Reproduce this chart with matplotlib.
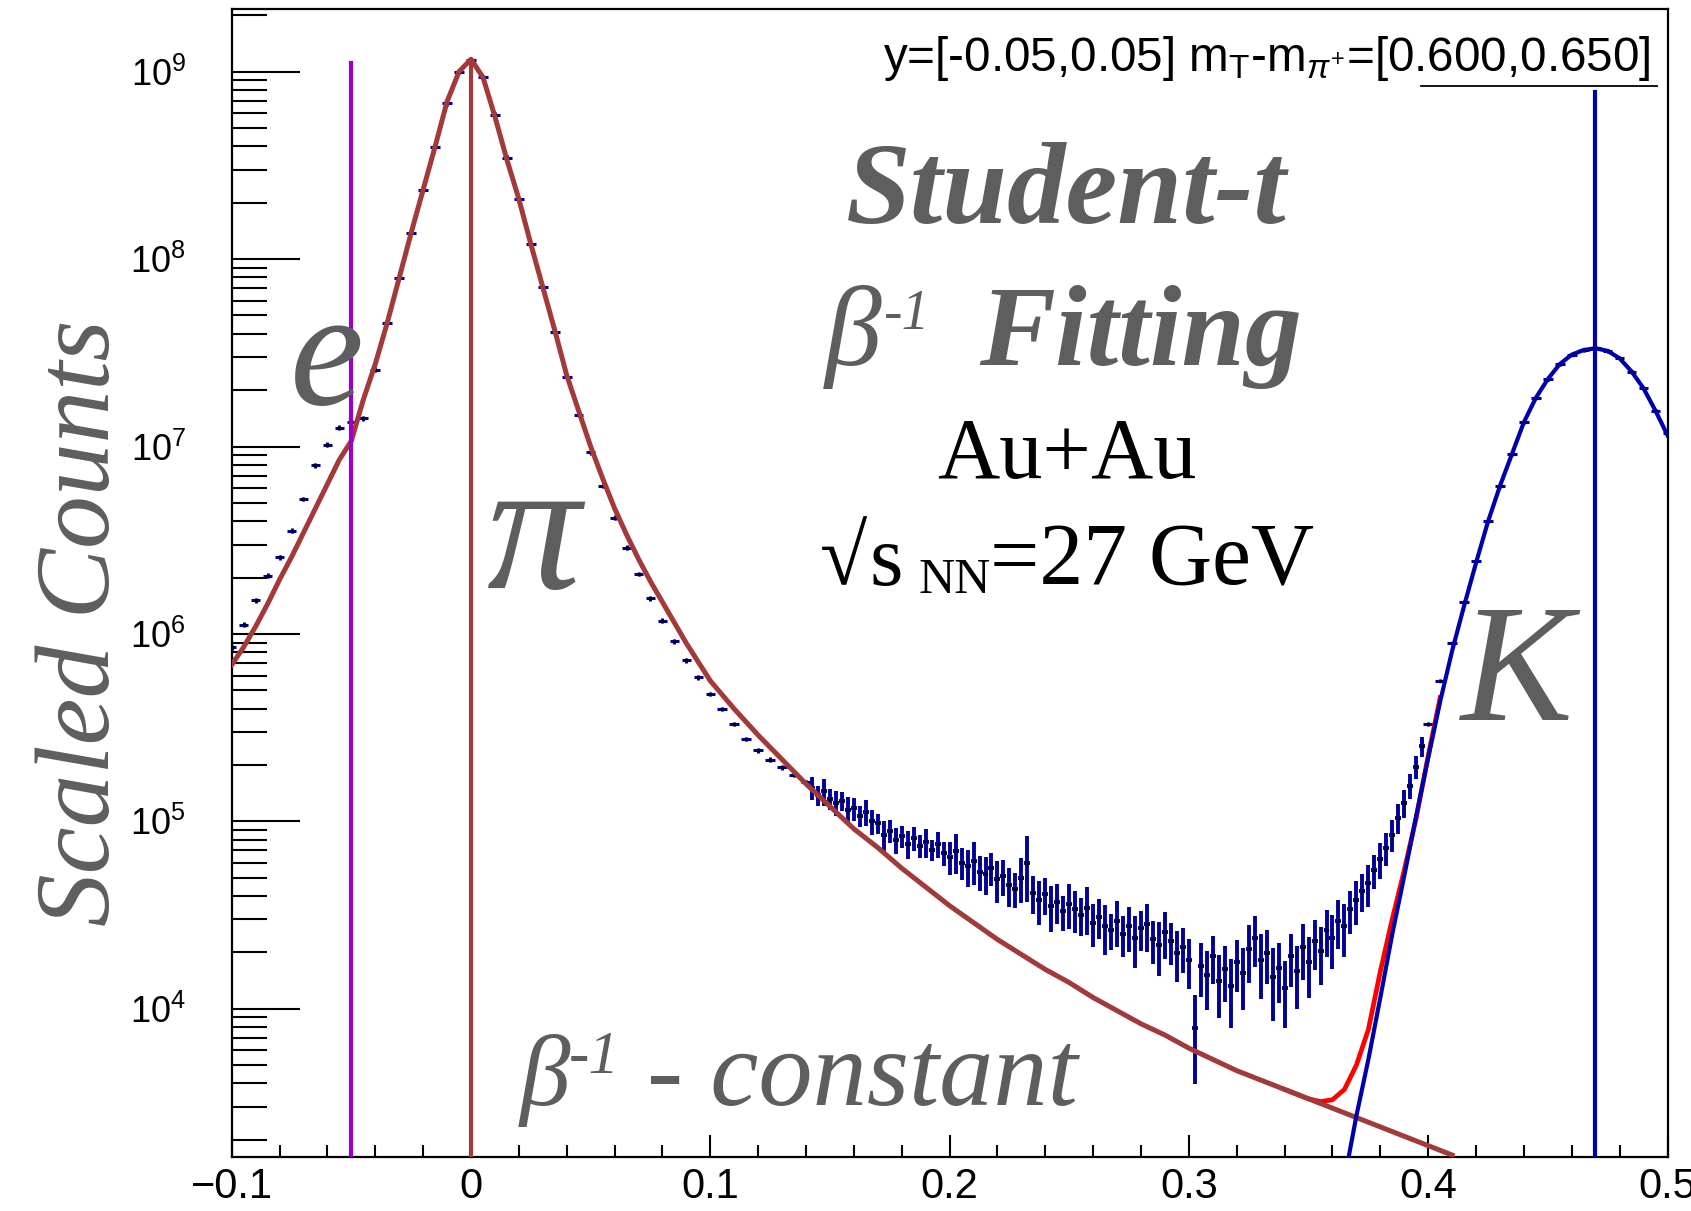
import numpy as np
import matplotlib
matplotlib.use("Agg")
import matplotlib.pyplot as plt
from matplotlib.ticker import LogLocator, MultipleLocator, FixedLocator, FixedFormatter, NullFormatter

# ---------------- data (log10 of scaled counts) ----------------
# segment A: bins from -0.100 in steps of 0.005
bin_A_start, bin_A_step = -0.100, 0.005
log_counts_A = [5.93, 6.05, 6.18, 6.31, 6.41, 6.55, 6.72, 6.90, 7.01, 7.10,
                7.13, 7.15, 7.41, 7.66, 7.90, 8.14, 8.37, 8.60, 8.83, 9.00,
                9.06, 8.97, 8.77, 8.54, 8.32, 8.08, 7.85, 7.61, 7.37, 7.17,
                6.97, 6.79, 6.62, 6.46, 6.32, 6.19, 6.07, 5.96, 5.86, 5.77,
                5.68, 5.60, 5.52, 5.44, 5.38, 5.33, 5.29, 5.25, 5.21]
rel_err_A = 0.03

# segment B: bins from 0.1425 in steps of 0.0025 (noisy region)
bin_B_start, bin_B_step = 0.1425, 0.0025
log_counts_B = [5.18, 5.14, 5.16, 5.12, 5.10, 5.11, 5.06, 5.07, 5.03, 5.05,
                5.00, 4.99, 4.93, 4.95, 4.90, 4.92, 4.88, 4.91, 4.87, 4.89,
                4.85, 4.88, 4.83, 4.81, 4.84, 4.78, 4.76, 4.79, 4.73, 4.72,
                4.75, 4.69, 4.71, 4.66, 4.64, 4.70, 4.78, 4.62, 4.58, 4.61,
                4.55, 4.57, 4.52, 4.56, 4.53, 4.50, 4.54, 4.46, 4.49, 4.44,
                4.42, 4.47, 4.40, 4.44, 4.38, 4.43, 4.45, 4.37, 4.34, 4.41,
                4.36, 4.30, 4.33, 4.26, 3.90, 4.23, 4.18, 4.28, 4.15, 4.21,
                4.12, 4.25, 4.19, 4.32, 4.38, 4.26, 4.30, 4.17, 4.22, 4.11,
                4.28, 4.20, 4.33, 4.25, 4.36, 4.31, 4.42, 4.38, 4.47, 4.44,
                4.53, 4.58, 4.63, 4.67, 4.74, 4.80, 4.86, 4.93, 5.02, 5.10,
                5.19, 5.29, 5.40]
rel_err_B = [0.14, 0.12, 0.16, 0.13, 0.15, 0.12, 0.17, 0.14, 0.13, 0.16,
             0.15, 0.12, 0.18, 0.14, 0.16, 0.13, 0.17, 0.15, 0.14, 0.18,
             0.13, 0.16, 0.15,
             0.20, 0.24, 0.19, 0.22, 0.26, 0.21, 0.23, 0.20, 0.25, 0.22,
             0.24, 0.21, 0.27, 0.38, 0.23, 0.26, 0.22, 0.28, 0.24, 0.21,
             0.27, 0.25, 0.23, 0.29, 0.26, 0.24, 0.30, 0.22, 0.28, 0.25,
             0.27, 0.31, 0.24, 0.29, 0.26, 0.32, 0.28, 0.25, 0.30, 0.27,
             0.30, 0.50, 0.32, 0.35, 0.29, 0.37, 0.33, 0.40, 0.31, 0.36,
             0.34, 0.30, 0.38, 0.32, 0.42, 0.35, 0.39, 0.31, 0.37, 0.33,
             0.36, 0.30, 0.34, 0.28, 0.32, 0.29, 0.31, 0.26,
             0.26, 0.23, 0.25, 0.21, 0.22, 0.20, 0.19, 0.18, 0.17, 0.15,
             0.14, 0.12]

# segment C: bins from 0.400 in steps of 0.005 (kaon peak)
bin_C_start, bin_C_step = 0.400, 0.005
log_counts_C = [5.52, 5.75, 5.95, 6.17, 6.39, 6.60, 6.79, 6.96, 7.13, 7.26,
                7.36, 7.44, 7.49, 7.515, 7.524, 7.51, 7.47, 7.40, 7.31, 7.19,
                7.07]
rel_err_C = 0.02

# Student-t pion fit (brown)
pi_fit_x_fine = np.round(np.arange(-0.100, 0.1001, 0.005), 4)
pi_fit_log_fine = [5.835, 5.93, 6.04, 6.16, 6.29, 6.41, 6.54, 6.67, 6.80, 6.93,
                   7.03, 7.25, 7.44, 7.66, 7.90, 8.14, 8.37, 8.60, 8.84, 9.00,
                   9.066, 8.97, 8.76, 8.53, 8.32, 8.08, 7.85, 7.62, 7.38, 7.19,
                   7.00, 6.83, 6.67, 6.53, 6.40, 6.28, 6.17, 6.06, 5.95, 5.85,
                   5.75]
pi_fit_x_coarse = np.round(np.arange(0.11, 0.4101, 0.01), 3)
pi_fit_log_coarse = [5.60, 5.46, 5.33, 5.20, 5.08, 4.96, 4.86, 4.75, 4.65, 4.55,
                     4.46, 4.37, 4.29, 4.21, 4.14, 4.06, 3.99, 3.92, 3.86, 3.79,
                     3.73, 3.67, 3.62, 3.57, 3.52, 3.47, 3.42, 3.37, 3.32, 3.27,
                     3.22]

# kaon fit (blue)
k_fit_x = np.round(np.arange(0.365, 0.5001, 0.005), 3)
k_fit_log = [3.09, 3.43, 3.73, 4.06, 4.40, 4.71, 5.03, 5.34, 5.64, 5.91,
             6.15, 6.38, 6.60, 6.79, 6.96, 7.13, 7.26, 7.36, 7.44, 7.49,
             7.515, 7.524, 7.51, 7.47, 7.40, 7.31, 7.19, 7.06]

# total fit (red), visible part
tot_fit_x = np.round(np.arange(0.340, 0.4051, 0.005), 3)
tot_fit_log = [3.57, 3.545, 3.52, 3.505, 3.515, 3.57, 3.70, 3.89, 4.20, 4.48,
               4.74, 5.02, 5.35, 5.66]

# mean markers (vertical lines): x, top value
mean_x = [-0.05, 0.0, 0.4697]
mean_top = [1.11e9, 1.15e9, 7.8e8]
mean_colors = ["#9900cc", "#a33a3a", "#0000aa"]

xtick_vals = [-0.1, 0.0, 0.1, 0.2, 0.3, 0.4, 0.5]
xtick_labels = ["\u22120.1", "0", "0.1", "0.2", "0.3", "0.4", "0.5"]
ytick_vals = [1e4, 1e5, 1e6, 1e7, 1e8, 1e9]

# ---------------- figure ----------------
plt.rcParams["mathtext.fontset"] = "custom"
plt.rcParams["mathtext.rm"] = "Liberation Sans"
plt.rcParams["mathtext.it"] = "Liberation Sans:italic"
plt.rcParams["mathtext.bf"] = "Liberation Sans:bold"
plt.rcParams["mathtext.sf"] = "Liberation Sans"
plt.rcParams["font.family"] = ["Liberation Sans", "DejaVu Sans"]

fig = plt.figure(figsize=(16.91, 12.11), dpi=100)
ax = fig.add_axes([0.13702, 0.04459, 0.84909, 0.94773])
ax.set_yscale("log")
ax.set_xlim(-0.1, 0.5)
ax.set_ylim(1620, 2.15e9)

navy = "#000099"

def draw_data(start, step, logs, rel, half, elw):
    logs = np.asarray(logs, dtype=float)
    x = start + step * np.arange(len(logs))
    y = 10 ** logs
    rel = np.broadcast_to(np.asarray(rel, dtype=float), y.shape)
    err = y * rel
    lower = np.minimum(err, y * 0.95)
    ax.errorbar(x, y, yerr=[lower, err], xerr=half, fmt="none",
                ecolor=navy, elinewidth=elw, capsize=0, zorder=2)
    ax.plot(x, y, ls="none", marker="o", ms=1.6, color="black", zorder=3)

draw_data(bin_A_start, bin_A_step, log_counts_A, rel_err_A, 0.002, 2.2)
draw_data(bin_B_start, bin_B_step, log_counts_B, rel_err_B, 0.00125, 2.8)
draw_data(bin_C_start, bin_C_step, log_counts_C, rel_err_C, 0.002, 2.2)

# fits
ax.plot(tot_fit_x, 10 ** np.array(tot_fit_log), color="red", lw=3.4, zorder=4)
pi_x = np.concatenate([pi_fit_x_fine, pi_fit_x_coarse])
pi_y = 10 ** np.array(pi_fit_log_fine + pi_fit_log_coarse)
ax.plot(pi_x, pi_y, color="#a33a3a", lw=3.6, zorder=5, solid_joinstyle="round")
ax.plot(k_fit_x, 10 ** np.array(k_fit_log), color="#0000aa", lw=3.0, zorder=6)

for mx, mt, mc in zip(mean_x, mean_top, mean_colors):
    ax.plot([mx, mx], [1620, mt], color=mc, lw=3.0, zorder=7)

# axes styling
for s in ax.spines.values():
    s.set_linewidth(1.6)
ax.yaxis.set_major_locator(FixedLocator(ytick_vals))
ax.yaxis.set_minor_locator(LogLocator(base=10, subs=np.arange(2, 10), numticks=100))
ax.yaxis.set_minor_formatter(NullFormatter())
ax.xaxis.set_major_locator(FixedLocator(xtick_vals))
ax.xaxis.set_major_formatter(FixedFormatter(xtick_labels))
ax.xaxis.set_minor_locator(MultipleLocator(0.02))
ax.tick_params(axis="y", which="major", direction="in", length=49, width=1.5,
               labelsize=26, pad=33)
ax.tick_params(axis="y", which="minor", direction="in", length=25, width=1.5)
ax.tick_params(axis="x", which="major", direction="in", length=16, width=1.5,
               labelsize=30, pad=7)
ax.tick_params(axis="x", which="minor", direction="in", length=8.5, width=1.5)

# header
ax.text(0.988, 0.946, r"y=[-0.05,0.05] m$_{\mathregular{T}}$-m$_{\pi^{+}}$=[0.600,0.650]",
        transform=ax.transAxes, ha="right", va="baseline", fontsize=34.3,
        family="Liberation Sans", color="black", zorder=10)
ax.plot([0.828, 0.993], [0.933, 0.933], transform=ax.transAxes, color="black",
        lw=1.3, clip_on=False, zorder=10)

gray = "#5e5e5e"
serif = ["Liberation Serif", "DejaVu Serif"]

def t(x, y, s, size, style="italic", weight="normal", color=gray, ha="left"):
    ax.text(x, y, s, transform=ax.transAxes, ha=ha, va="baseline", fontsize=size,
            family=serif, style=style, weight=weight, color=color, zorder=10)

t(0.5815, 0.8136, "Student-t", 84, weight="bold", ha="center")
t(0.4133, 0.6905, "\u03b2", 82)
t(0.4543, 0.7215, "-1", 40)
t(0.5208, 0.6905, "Fitting", 82, weight="bold")
t(0.5815, 0.5919, "Au+Au", 62, style="normal", color="black", ha="center")
t(0.4095, 0.4988, "\u221a", 62, style="normal", color="black")
t(0.4440, 0.4988, "s", 62, style="normal", color="black")
t(0.4786, 0.4914, "NN", 36, style="normal", color="black")
t(0.5282, 0.4988, "=27 GeV", 63, style="normal", color="black")
t(0.0403, 0.6558, "e", 120)
t(0.1781, 0.4960, "\u03c0", 135)
t(0.8563, 0.3804, "K", 121)
t(0.2007, 0.0450, "\u03b2", 73)
t(0.2344, 0.0732, "-1", 44)
t(0.2893, 0.0450, "- constant", 78)

fig.text(0.0497, 0.4856, "Scaled Counts", rotation=90, ha="center", va="center",
         fontsize=76, family=serif, style="italic", color=gray)

fig.savefig("out.png", dpi=100)
